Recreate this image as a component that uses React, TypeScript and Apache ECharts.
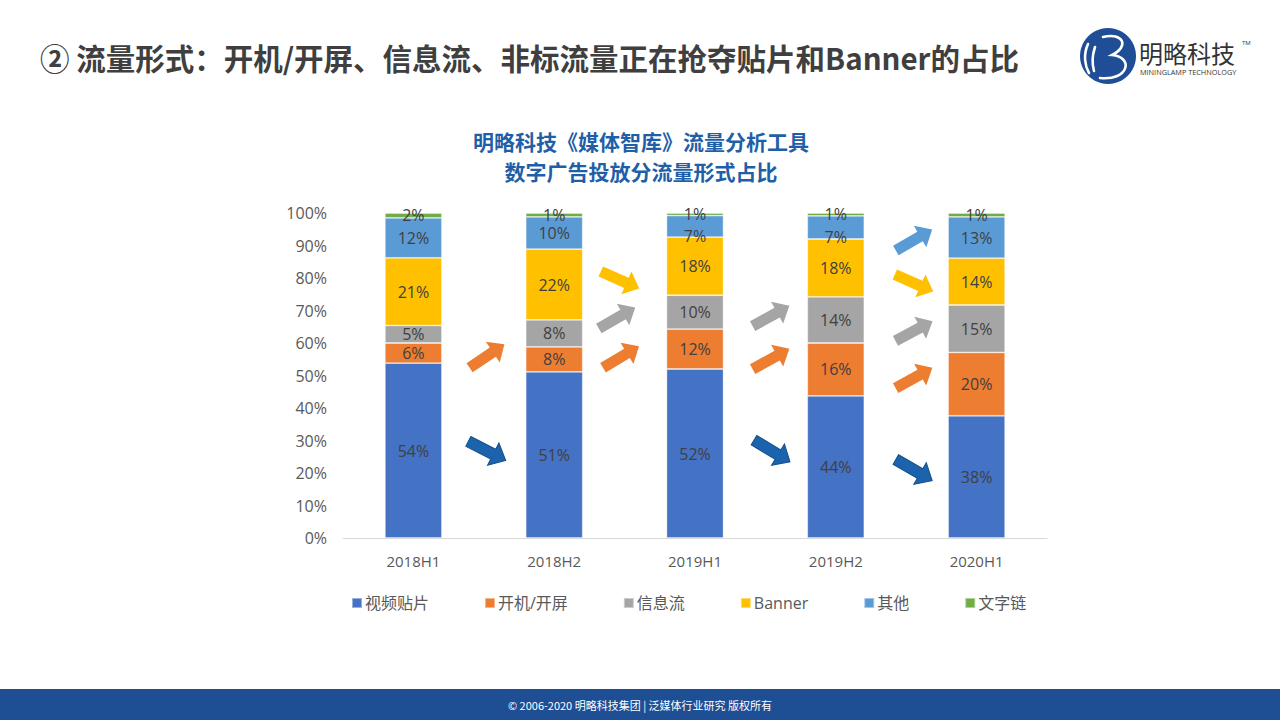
import React, { useEffect, useRef } from "react";
import * as echarts from "echarts";

const categories = ["2018H1", "2018H2", "2019H1", "2019H2", "2020H1"];
const seriesNames = ["视频贴片", "开机/开屏", "信息流", "Banner", "其他", "文字链"];
const videoPatch = [53.8, 51.1, 52.0, 43.7, 37.6];
const splash = [6.2, 7.7, 12.3, 16.3, 19.5];
const feed = [5.4, 8.3, 10.4, 14.2, 14.6];
const banner = [20.8, 21.8, 17.9, 17.8, 14.4];
const other = [12.3, 9.9, 6.6, 7.1, 12.7];
const textLink = [1.5, 1.2, 0.8, 0.9, 1.2];
const yTicks = [0, 10, 20, 30, 40, 50, 60, 70, 80, 90, 100];

const colors = ["#4472C4", "#ED7D31", "#A5A5A5", "#FFC000", "#5B9BD5", "#70AD47"];
const FONT = "'Open Sans', 'Noto Sans CJK SC', sans-serif";
const CJK = "'Noto Sans CJK SC', sans-serif";

function arrow(cx: number, cy: number, deg: number, fill: string, stroke?: string) {
  const L = 42, sw = 11, hw = 25, hl = 14;
  const pts = [
    [-L / 2, -sw / 2],
    [L / 2 - hl, -sw / 2],
    [L / 2 - hl, -hw / 2],
    [L / 2, 0],
    [L / 2 - hl, hw / 2],
    [L / 2 - hl, sw / 2],
    [-L / 2, sw / 2],
  ];
  return {
    type: "polygon",
    x: cx,
    y: cy,
    rotation: (deg * Math.PI) / 180,
    shape: { points: pts },
    style: { fill, stroke: stroke || fill, lineWidth: stroke ? 1 : 0 },
    silent: true,
  };
}

export default function App() {
  const ref = useRef<HTMLDivElement>(null);
  useEffect(() => {
    if (!ref.current) return;
    echarts.graphic.registerShape(
      "logo",
      echarts.graphic.extendPath(
        "M1103,37 C1123,32 1130,46 1112,55 C1134,57 1129,81 1100,78 M1088,44 C1083,55 1085,66 1089,73 M1095,47 C1092,56 1092,64 1094,71",
        {}
      )
    );
    const chart = echarts.init(ref.current, null, { renderer: "svg" });
    const data = [videoPatch, splash, feed, banner, other, textLink];
    const arrowBlue = "#1C63AE";
    const arrowBlueEdge = "#174E8A";
    chart.setOption({
      animation: false,
      backgroundColor: "#ffffff",
      color: colors,
      grid: { left: 343, right: 233, top: 213, bottom: 182 },
      xAxis: {
        type: "category",
        data: categories,
        axisLine: { lineStyle: { color: "#D9D9D9", width: 1 } },
        axisTick: { show: false },
        axisLabel: { color: "#595959", fontSize: 15, fontFamily: FONT, margin: 15 },
      },
      yAxis: {
        type: "value",
        min: yTicks[0],
        max: yTicks[yTicks.length - 1],
        interval: yTicks[1] - yTicks[0],
        axisLine: { show: false },
        axisTick: { show: false },
        splitLine: { show: false },
        axisLabel: { color: "#595959", fontSize: 16, fontFamily: FONT, margin: 16, formatter: "{value}%" },
      },
      legend: {
        left: 351,
        top: 595,
        padding: 0,
        itemWidth: 10,
        itemHeight: 10,
        itemGap: 55,
        icon: "rect",
        textStyle: { color: "#595959", fontSize: 16, fontFamily: FONT, padding: [0, 0, 0, -2] },
        data: seriesNames,
      },
      series: seriesNames.map((name, i) => ({
        name,
        type: "bar",
        stack: "total",
        barWidth: 57,
        data: data[i].map((v) =>
          i === 4 && v < 8 ? { value: v, label: { offset: [0, 10] } } : v
        ),
        itemStyle: { color: colors[i], borderColor: "rgba(255,255,255,0.45)", borderWidth: 0.8 },
        label: {
          show: true,
          position: "inside",
          color: "#404040",
          fontSize: 16,
          fontFamily: FONT,
          formatter: (p: any) => Math.round(p.value) + "%",
        },
      })),
      graphic: [
        {
          type: "text",
          x: 40,
          y: 57,
          style: {
            text: "② 流量形式：开机/开屏、信息流、非标流量正在抢夺贴片和Banner的占比",
            font: `bold 29.5px ${CJK}`,
            fill: "#3F3F3F",
            verticalAlign: "middle",
            textVerticalAlign: "middle",
          },
        },
        {
          type: "text",
          x: 641,
          y: 141,
          style: {
            text: "明略科技《媒体智库》流量分析工具",
            font: `bold 21px ${CJK}`,
            fill: "#1F5FA8",
            align: "center",
            textAlign: "center",
            verticalAlign: "middle",
            textVerticalAlign: "middle",
          },
        },
        {
          type: "text",
          x: 641,
          y: 171,
          style: {
            text: "数字广告投放分流量形式占比",
            font: `bold 21px ${CJK}`,
            fill: "#1F5FA8",
            align: "center",
            textAlign: "center",
            verticalAlign: "middle",
            textVerticalAlign: "middle",
          },
        },
        // logo
        { type: "circle", shape: { cx: 1108, cy: 56, r: 28 }, style: { fill: "#1F4E96" }, silent: true },
        { type: "logo", x: 0, y: 0, style: { stroke: "#ffffff", fill: "none", lineWidth: 2.6, lineCap: "round" }, silent: true },
        {
          type: "text",
          x: 1139,
          y: 52,
          style: { text: "明略科技", font: `24px ${CJK}`, fill: "#333333", verticalAlign: "middle", textVerticalAlign: "middle" },
        },
        {
          type: "text",
          x: 1242,
          y: 43,
          style: { text: "TM", font: `6px ${FONT}`, fill: "#333333", verticalAlign: "middle", textVerticalAlign: "middle" },
        },
        {
          type: "text",
          x: 1140,
          y: 72,
          style: { text: "MININGLAMP TECHNOLOGY", font: `7.3px ${FONT}`, fill: "#333333", verticalAlign: "middle", textVerticalAlign: "middle" },
        },
        // arrows
        arrow(487, 356, 34, "#ED7D31"),
        arrow(487, 451, -27, arrowBlue, arrowBlueEdge),
        arrow(620, 280, -24, "#FFC000"),
        arrow(617, 318, 30, "#A5A5A5"),
        arrow(621, 357, 31, "#ED7D31"),
        arrow(771, 316, 29, "#A5A5A5"),
        arrow(771, 359, 29, "#ED7D31"),
        arrow(772, 451, -31, arrowBlue, arrowBlueEdge),
        arrow(914, 240, 30, "#5B9BD5"),
        arrow(914, 283, -24, "#FFC000"),
        arrow(914, 331, 28, "#A5A5A5"),
        arrow(914, 378, 29, "#ED7D31"),
        arrow(914, 470, -30, arrowBlue, arrowBlueEdge),
        // footer
        { type: "rect", shape: { x: 0, y: 689, width: 1280, height: 31 }, style: { fill: "#1E4E93" }, silent: true },
        {
          type: "text",
          x: 640,
          y: 705,
          style: {
            text: "© 2006-2020 明略科技集团 | 泛媒体行业研究 版权所有",
            font: `11px ${CJK}`,
            fill: "#ffffff",
            align: "center",
            textAlign: "center",
            verticalAlign: "middle",
            textVerticalAlign: "middle",
          },
        },
      ],
    });
    return () => chart.dispose();
  }, []);
  return <div ref={ref} style={{ position: "fixed", left: 0, top: 0, width: 1280, height: 720 }} />;
}
